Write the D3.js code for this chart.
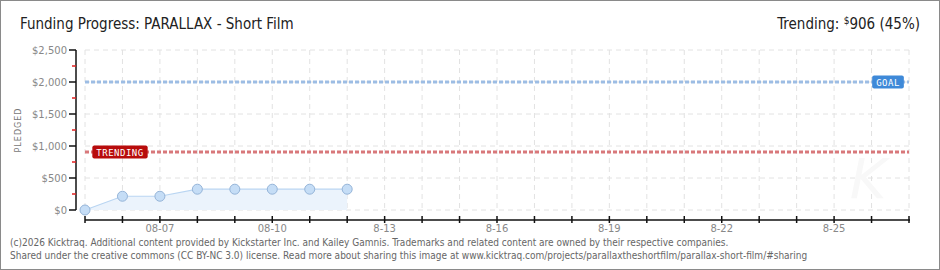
<!DOCTYPE html>
<html>
<head>
<meta charset="utf-8" />
<title>Funding Progress: PARALLAX - Short Film</title>
<script src="https://cdnjs.cloudflare.com/ajax/libs/d3/7.8.5/d3.min.js"></script>
<style>
	body { margin: 0; background: #fff; }
	svg { display: block; }
	.tick-label { font-family: "DejaVu Sans", sans-serif; font-size: 10px; fill: #888; }
	.footer { font-family: "DejaVu Sans Condensed", "Liberation Sans Narrow", sans-serif; font-size: 10px; fill: #666; }
</style>
</head>
<body>
<svg id="chart" width="940" height="270"></svg>
<script>
// data
const days = ["2026-08-05", "2026-08-06", "2026-08-07", "2026-08-08", "2026-08-09", "2026-08-10", "2026-08-11", "2026-08-12"];
const pledged = [0, 215, 215, 325, 325, 325, 325, 325];
const goal = 2000;
const trending = 906;
const yTicks = [0, 500, 1000, 1500, 2000, 2500];
const yMinorTicks = [250, 750, 1250, 1750, 2250];
const xLabelDays = ["2026-08-07", "2026-08-10", "2026-08-13", "2026-08-16", "2026-08-19", "2026-08-22", "2026-08-25"];
const xLabels = ["08-07", "08-10", "8-13", "8-16", "8-19", "8-22", "8-25"];

const parse = d3.timeParse("%Y-%m-%d");
const svg = d3.select("#chart");
const W = 940, H = 270;

// frame
svg.append("rect").attr("x", 0.5).attr("y", 0.5).attr("width", W - 1).attr("height", H - 1)
	.attr("fill", "#fff").attr("stroke", "#8a8a8a");

// title + trending
svg.append("text").attr("x", 20).attr("y", 29)
	.attr("font-family", "Liberation Sans Narrow, DejaVu Sans Condensed, sans-serif")
	.attr("font-size", 15).attr("fill", "#222")
	.text("Funding Progress: PARALLAX - Short Film");

let tr = svg.append("text").attr("x", 920).attr("y", 29).attr("text-anchor", "end")
	.attr("font-family", "Liberation Sans Narrow, DejaVu Sans Condensed, sans-serif")
	.attr("font-size", 15).attr("fill", "#222");
tr.append("tspan").text("Trending:  ");
tr.append("tspan").attr("font-size", 10).attr("dy", -5).text("$");
tr.append("tspan").attr("dy", 5).text(d3.format(",")(trending) + " (" + Math.round(trending / goal * 100) + "%)");

// scales
const x = d3.scaleTime().domain([parse("2026-08-05"), parse("2026-08-27")]).range([85, 909]);
const y = d3.scaleLinear().domain([0, 2500]).range([210, 50]);
const allDays = d3.timeDay.range(parse("2026-08-05"), d3.timeDay.offset(parse("2026-08-27"), 1));

// grid
const grid = svg.append("g").attr("stroke", "#e2e2e2").attr("stroke-dasharray", "5,4");
grid.selectAll("line.v").data(allDays).enter().append("line")
	.attr("x1", d => x(d)).attr("x2", d => x(d)).attr("y1", 50).attr("y2", 210);
grid.selectAll("line.h").data(yTicks).enter().append("line")
	.attr("x1", 85).attr("x2", 909).attr("y1", d => y(d)).attr("y2", d => y(d));

// watermark
svg.append("text").attr("x", 868).attr("y", 198).attr("text-anchor", "middle")
	.attr("font-family", "DejaVu Sans, sans-serif").attr("font-size", 56).attr("font-style", "italic")
	.attr("fill", "#f8f8f8").text("K");

// reference lines
function refLine(v, color) {
	svg.append("line").attr("x1", 85).attr("x2", 909).attr("y1", y(v)).attr("y2", y(v))
		.attr("stroke", color).attr("stroke-width", 3).attr("stroke-dasharray", "4,2");
}
refLine(goal, "#9dbde4");
refLine(trending, "#d8787b");

// series
const pts = days.map((d, i) => ({ date: parse(d), value: pledged[i] }));
svg.append("path").datum(pts)
	.attr("fill", "#ebf3fc")
	.attr("d", d3.area().x(d => x(d.date)).y0(y(0)).y1(d => y(d.value)));
svg.append("path").datum(pts)
	.attr("fill", "none").attr("stroke", "#b9d5f2").attr("stroke-width", 1.2)
	.attr("d", d3.line().x(d => x(d.date)).y(d => y(d.value)));
svg.selectAll("circle.pt").data(pts).enter().append("circle")
	.attr("cx", d => x(d.date)).attr("cy", d => y(d.value)).attr("r", 5)
	.attr("fill", "#c5ddf6").attr("stroke", "#95b4d8").attr("stroke-width", 1);

// badges
function badge(label, cx, v, color) {
	const g = svg.append("g");
	const t = g.append("text").attr("x", cx).attr("y", y(v) + 3.5).attr("text-anchor", "middle")
		.attr("font-family", "DejaVu Sans Mono, monospace").attr("font-size", 9)
		.attr("fill", "#fff").attr("letter-spacing", 0.5).text(label);
	const bb = t.node().getBBox();
	g.insert("rect", "text").attr("x", bb.x - 4).attr("y", y(v) - 6.5).attr("width", bb.width + 8).attr("height", 13)
		.attr("rx", 2).attr("fill", color);
}
badge("TRENDING", 120, trending, "#b80c0c");
badge("GOAL", 888, goal, "#3e89d8");

// y axis
svg.append("line").attr("x1", 76).attr("x2", 76).attr("y1", 50).attr("y2", 210).attr("stroke", "#111").attr("stroke-width", 1.5);
svg.selectAll("line.yt").data(yTicks).enter().append("line")
	.attr("x1", 69).attr("x2", 76).attr("y1", d => y(d)).attr("y2", d => y(d)).attr("stroke", "#111").attr("stroke-width", 1.5);
svg.selectAll("line.ym").data(yMinorTicks).enter().append("line")
	.attr("x1", 72).attr("x2", 76).attr("y1", d => y(d)).attr("y2", d => y(d)).attr("stroke", "#e02020").attr("stroke-width", 1.5);
svg.selectAll("text.yl").data(yTicks).enter().append("text").attr("class", "tick-label")
	.attr("x", 67).attr("y", d => y(d) + 4).attr("text-anchor", "end")
	.text(d => "$" + d3.format(",")(d));
svg.append("text").attr("transform", "translate(21,130) rotate(-90)").attr("text-anchor", "middle")
	.attr("font-family", "DejaVu Sans, sans-serif").attr("font-size", 8).attr("letter-spacing", 1).attr("fill", "#777")
	.text("PLEDGED");

// x axis
svg.append("line").attr("x1", 85).attr("x2", 910).attr("y1", 220).attr("y2", 220).attr("stroke", "#111").attr("stroke-width", 1.5);
svg.selectAll("line.xt").data(allDays).enter().append("line")
	.attr("x1", d => x(d)).attr("x2", d => x(d)).attr("y1", 216).attr("y2", 223).attr("stroke", "#111").attr("stroke-width", 1.5);
svg.selectAll("text.xl").data(xLabelDays).enter().append("text").attr("class", "tick-label")
	.attr("x", d => x(parse(d))).attr("y", 232).attr("text-anchor", "middle")
	.text((d, i) => xLabels[i]);

// footer
svg.append("text").attr("class", "footer").attr("x", 10).attr("y", 246)
	.text("(c)2026 Kicktraq. Additional content provided by Kickstarter Inc. and Kailey Gamnis. Trademarks and related content are owned by their respective companies.");
svg.append("text").attr("class", "footer").attr("x", 10).attr("y", 259)
	.text("Shared under the creative commons (CC BY-NC 3.0) license. Read more about sharing this image at www.kicktraq.com/projects/parallaxtheshortfilm/parallax-short-film/#sharing");
</script>
</body>
</html>
